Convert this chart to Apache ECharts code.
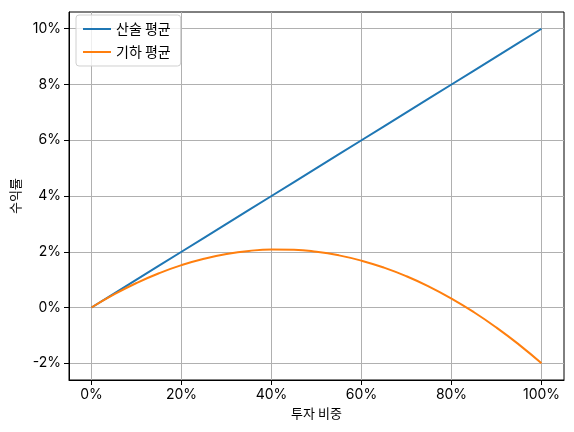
<!DOCTYPE html>
<html>
<head>
<meta charset="utf-8">
<script src="https://cdn.jsdelivr.net/npm/echarts@6/dist/echarts.min.js"></script>
<style>
  html, body { margin: 0; padding: 0; background: #fff; }
  #chart { width: 574px; height: 432px; }
</style>
</head>
<body>
<div id="chart"></div>
<script>
// 투자 비중 (%)
const weights = [0, 5, 10, 15, 20, 25, 30, 35, 40, 45, 50, 55, 60, 65, 70, 75, 80, 85, 90, 95, 100]
// 산술 평균 (%)
const arithMean = [0, 0.5, 1, 1.5, 2, 2.5, 3, 3.5, 4, 4.5, 5, 5.5, 6, 6.5, 7, 7.5, 8, 8.5, 9, 9.5, 10]
// 기하 평균 (%)
const geoMean = [0, 0.47, 0.88, 1.23, 1.52, 1.75, 1.92, 2.03, 2.08, 2.07, 2.0, 1.87, 1.68, 1.43, 1.12, 0.75, 0.32, -0.17, -0.72, -1.33, -2.0]

const xTicks = [0, 20, 40, 60, 80, 100]
const yTicks = [-2, 0, 2, 4, 6, 8, 10]

const fontNum = 'Inter, "Noto Sans CJK KR", sans-serif'
const fontKr = '"Noto Sans CJK KR", sans-serif'

const chart = echarts.init(document.getElementById('chart'))

const axisCommon = {
    axisLine: { show: true, onZero: false, lineStyle: { color: '#000', width: 1 } },
    axisTick: { show: true, length: 5, lineStyle: { color: '#000' } },
    splitLine: { show: true, lineStyle: { color: '#b0b0b0', width: 1 } },
    axisLabel: { color: '#000', fontSize: 14, fontFamily: fontNum, formatter: v => v + '%' },
    nameTextStyle: { color: '#000', fontSize: 13, fontFamily: fontKr }
}

const option = {
    animation: false,
    backgroundColor: '#fff',
    grid: {
        left: 69, right: 10, top: 12, bottom: 52,
        show: true, borderColor: '#000', borderWidth: 1
    },
    legend: {
        orient: 'vertical',
        left: 76, top: 15,
        padding: [7, 10, 7, 7],
        itemGap: 9,
        itemWidth: 28,
        itemHeight: 2,
        icon: 'rect',
        borderColor: '#d0d0d0',
        borderWidth: 1,
        borderRadius: 3,
        backgroundColor: 'rgba(255,255,255,0.8)',
        textStyle: { color: '#000', fontSize: 14, fontFamily: fontKr },
        data: ['산술 평균', '기하 평균']
    },
    xAxis: Object.assign({}, axisCommon, {
        type: 'value',
        min: -5, max: 105,
        name: '투자 비중',
        nameLocation: 'middle',
        nameGap: 26,
        axisTick: Object.assign({}, axisCommon.axisTick, { customValues: xTicks }),
        axisLabel: Object.assign({}, axisCommon.axisLabel, { customValues: xTicks, margin: 8 })
    }),
    yAxis: Object.assign({}, axisCommon, {
        type: 'value',
        min: -2.6, max: 10.6,
        name: '수익률',
        nameLocation: 'middle',
        nameGap: 42,
        axisTick: Object.assign({}, axisCommon.axisTick, { customValues: yTicks }),
        axisLabel: Object.assign({}, axisCommon.axisLabel, { customValues: yTicks, margin: 8 })
    }),
    series: [
        {
            name: '산술 평균',
            type: 'line',
            showSymbol: false,
            smooth: false,
            color: '#1f77b4',
            lineStyle: { width: 2 },
            data: weights.map((w, i) => [w, arithMean[i]])
        },
        {
            name: '기하 평균',
            type: 'line',
            showSymbol: false,
            smooth: true,
            color: '#ff7f0e',
            lineStyle: { width: 2 },
            data: weights.map((w, i) => [w, geoMean[i]])
        }
    ]
}

chart.setOption(option)
</script>
</body>
</html>
